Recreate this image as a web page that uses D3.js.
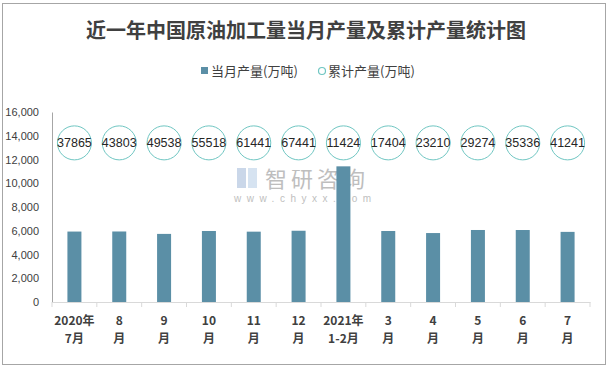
<!DOCTYPE html>
<html><head><meta charset="utf-8">
<script src="https://cdn.jsdelivr.net/npm/d3@7/dist/d3.min.js"></script>
<style>body{margin:0;background:#fff}svg{display:block}</style>
</head><body><svg id="c" width="611" height="369"></svg>
<script>
const categories = [["2020年","7月"],["8","月"],["9","月"],["10","月"],["11","月"],["12","月"],["2021年","1-2月"],["3","月"],["4","月"],["5","月"],["6","月"],["7","月"]];
const monthly = [5932, 5938, 5735, 5980, 5923, 6000, 11424, 5980, 5806, 6064, 6062, 5905];
const cumulative = [37865, 43803, 49538, 55518, 61441, 67441, 11424, 17404, 23210, 29274, 35336, 41241];
const yTicks = [0,2000,4000,6000,8000,10000,12000,14000,16000];
const circleLevel = 13400;

const svg = d3.select("#c");
svg.append("rect").attr("x",2.5).attr("y",3.5).attr("width",603).attr("height",361)
  .attr("fill","#fff").attr("stroke","#a6a6a6").attr("stroke-width",1);

const x = d3.scaleBand().domain(d3.range(categories.length)).range([52,590]);
const y = d3.scaleLinear().domain([0,16000]).range([302,112]);

// title
svg.append("text").attr("x",306).attr("y",38).attr("text-anchor","middle")
  .attr("font-family","'Noto Sans CJK SC',sans-serif").attr("font-weight","bold")
  .attr("font-size",20).attr("fill","#404040").text("近一年中国原油加工量当月产量及累计产量统计图");

// legend
const lg = svg.append("g").attr("font-family","'Noto Sans CJK SC',sans-serif").attr("font-size",13).attr("fill","#404040");
lg.append("rect").attr("x",201).attr("y",67).attr("width",7).attr("height",7).attr("fill","#5b8fa6");
lg.append("text").attr("x",211).attr("y",76).text("当月产量(万吨)");
lg.append("circle").attr("cx",322).attr("cy",71).attr("r",3.5).attr("fill","none").attr("stroke","#6fc6c2").attr("stroke-width",1.2);
lg.append("text").attr("x",328).attr("y",76).text("累计产量(万吨)");

// watermark
const wm = svg.append("g").attr("opacity",0.55);
wm.append("rect").attr("x",237).attr("y",168).attr("width",9).attr("height",20).attr("fill","#9fb8d8");
wm.append("rect").attr("x",248).attr("y",168).attr("width",9).attr("height",20).attr("fill","#b6cde6");
wm.append("text").attr("x",265).attr("y",187).attr("font-family","'Noto Sans CJK SC',sans-serif")
  .attr("font-size",22).attr("fill","#8a8a8a").attr("letter-spacing",4).text("智研咨询");
wm.append("text").attr("x",234).attr("y",202).attr("font-family","Arial,sans-serif")
  .attr("font-size",10).attr("fill","#8a8a8a").attr("letter-spacing",5.5).text("www.chyxx.com");

// y axis
const yAxis = svg.append("g").attr("transform","translate(52,0)")
  .call(d3.axisLeft(y).tickValues(yTicks).tickSize(0).tickPadding(13).tickFormat(d3.format(",")));
yAxis.select(".domain").attr("stroke","#a6a6a6");
yAxis.selectAll("text").attr("font-family","'Liberation Sans',Arial,sans-serif").attr("font-size",11).attr("fill","#404040");

// bars
svg.append("g").selectAll("rect").data(monthly).join("rect")
  .attr("x",(d,i)=>x(i)+x.bandwidth()/2-7).attr("width",14)
  .attr("y",d=>y(d)).attr("height",d=>y(0)-y(d)).attr("fill","#5b8fa6");

// x axis
const xAxis = svg.append("g").attr("transform","translate(0,302)")
  .call(d3.axisBottom(x).tickSize(0).tickFormat(""));
xAxis.select(".domain").attr("stroke","#d9d9d9");
svg.append("g").selectAll("line").data(d3.range(categories.length+1)).join("line")
  .attr("x1",i=>i<categories.length?x(i):x.range()[1]).attr("x2",i=>i<categories.length?x(i):x.range()[1])
  .attr("y1",302).attr("y2",307).attr("stroke","#d9d9d9");
const xl = svg.append("g").attr("font-family","'Noto Sans CJK SC',sans-serif").attr("font-weight","bold")
  .attr("font-size",12).attr("fill","#404040").attr("text-anchor","middle");
categories.forEach((c,i)=>{
  const cx = x(i)+x.bandwidth()/2;
  xl.append("text").attr("x",cx).attr("y",325).text(c[0]);
  xl.append("text").attr("x",cx).attr("y",343).text(c[1]);
});

// cumulative circles
const cg = svg.append("g");
cg.selectAll("circle").data(cumulative).join("circle")
  .attr("cx",(d,i)=>x(i)+x.bandwidth()/2).attr("cy",y(circleLevel)).attr("r",17)
  .attr("fill","none").attr("stroke","#6fc6c2").attr("stroke-width",1);
cg.selectAll("text").data(cumulative).join("text")
  .attr("x",(d,i)=>x(i)+x.bandwidth()/2).attr("y",y(circleLevel)+4.5).attr("text-anchor","middle")
  .attr("font-family","'Liberation Sans',Arial,sans-serif").attr("font-size",12.5).attr("fill","#262626")
  .text(d=>d);
</script></body></html>
